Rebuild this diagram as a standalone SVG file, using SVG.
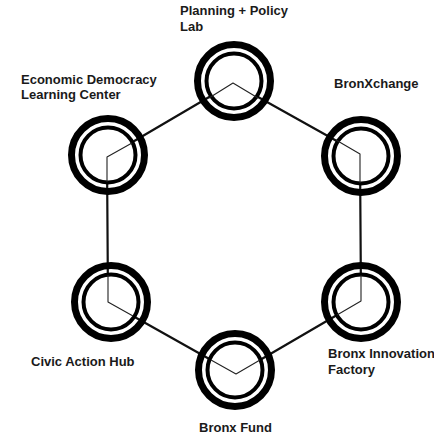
<svg xmlns="http://www.w3.org/2000/svg" width="434" height="435" viewBox="0 0 434 435">
<style>
.bg{fill:#ffffff}
.outer{fill:none;stroke:#000;stroke-width:7}
.inner{fill:#fff;stroke:#000;stroke-width:4}
.thick{fill:none;stroke:#111;stroke-width:2.2;stroke-linejoin:round}
.thin{fill:none;stroke:#222;stroke-width:1.1;stroke-linejoin:round}
.lbl{font-family:"Liberation Sans",Arial,sans-serif;font-weight:bold;font-size:13px;fill:#1a1a1a}
</style>
<defs>
<g id="ringO"><circle class="outer" r="36.5"/></g>
<g id="ringI"><circle class="inner" r="27.5"/></g>
</defs>
<rect class="bg" x="0" y="0" width="434" height="435"/>
<g id="connectors">
<path class="thick" d="M233,83 L107,157 L108,302 L236,374 L361,301 L360,154 Z"/>
</g>
<g id="node-planning">
<use href="#ringO" x="234" y="81"/>
<use href="#ringI" x="234" y="81"/>
<path class="thin" d="M209,98 L233,83 L258,98"/>
<text class="lbl" x="180" y="15">Planning + Policy</text>
<text class="lbl" x="180" y="31">Lab</text>
</g>
<g id="node-economic">
<use href="#ringO" x="108" y="155"/>
<use href="#ringI" x="108" y="155"/>
<path class="thin" d="M132,143 L107,157 L107,182"/>
<text class="lbl" x="21" y="84">Economic Democracy</text>
<text class="lbl" x="21" y="99">Learning Center</text>
</g>
<g id="node-bronxchange">
<use href="#ringO" x="361" y="156"/>
<use href="#ringI" x="361" y="156"/>
<path class="thin" d="M336,140 L360,154 L360,183"/>
<text class="lbl" x="334" y="88">BronXchange</text>
</g>
<g id="node-civic">
<use href="#ringO" x="111" y="302"/>
<use href="#ringI" x="111" y="302"/>
<path class="thin" d="M108,275 L108,302 L133,316"/>
<text class="lbl" x="31" y="366">Civic Action Hub</text>
</g>
<g id="node-innovation">
<use href="#ringO" x="361" y="302"/>
<use href="#ringI" x="361" y="302"/>
<path class="thin" d="M361,275 L361,301 L337,315"/>
<text class="lbl" x="328" y="358">Bronx Innovation</text>
<text class="lbl" x="328" y="374">Factory</text>
</g>
<g id="node-fund">
<use href="#ringO" x="235" y="370"/>
<use href="#ringI" x="235" y="370"/>
<path class="thin" d="M211,360 L236,374 L260,360"/>
<text class="lbl" x="199" y="432">Bronx Fund</text>
</g>
</svg>
